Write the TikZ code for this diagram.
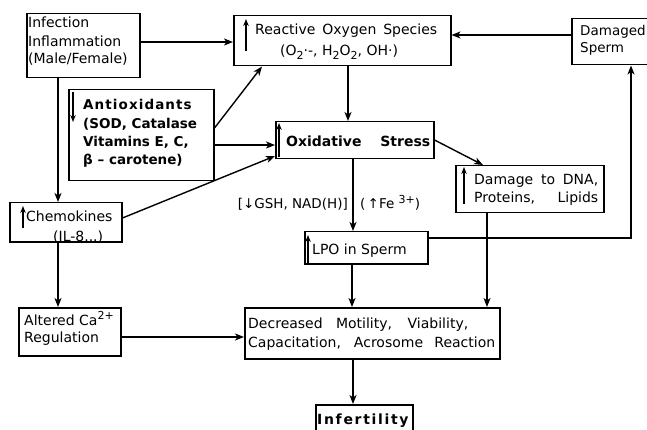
\documentclass[tikz,border=0pt]{standalone}
\usepackage{fontspec}
\setmainfont{DejaVu Sans}
\usetikzlibrary{arrows.meta}
\newcommand\sbs[1]{\raisebox{-0.4ex}{\fontsize{11}{11}\selectfont #1}}
\newcommand\sps[1]{\raisebox{0.7ex}{\fontsize{11}{11}\selectfont #1}}
\begin{document}
\begin{tikzpicture}[x=1pt,y=-1pt,
  box/.style={draw, line width=1.5pt, anchor=north west, inner sep=0pt},
  txt/.style={anchor=base west, inner sep=0pt, font=\fontsize{14}{17}\selectfont},
  btxt/.style={anchor=base west, inner sep=0pt, font=\fontsize{13.5}{17}\selectfont\bfseries},
  bbtxt/.style={anchor=base west, inner sep=0pt, font=\fontsize{14}{17}\selectfont\bfseries},
  lbl/.style={anchor=base west, inner sep=0pt, font=\fontsize{13.5}{15}\selectfont},
  arr/.style={line width=1.4pt, -{Stealth[length=9pt,width=7pt,inset=2.5pt]}},
  inarr/.style={line width=1.2pt, -{Stealth[length=7pt,width=5.5pt]}}]
\useasboundingbox (0,0) rectangle (647,430);
\clip (0,0) rectangle (647,430);
% boxes
\node[box,minimum width=113pt,minimum height=64pt] (inf) at (26,13) {};
\node[box,minimum width=217pt,minimum height=50pt] (ros) at (233,15) {};
\node[box,minimum width=94pt,minimum height=46pt] (dam) at (571,18) {};
\node[box,minimum width=145pt,minimum height=91pt] (anti) at (68,89) {};
\node[box,minimum width=158pt,minimum height=37pt] (ox) at (275,121) {};
\node[box,minimum width=148pt,minimum height=47pt] (dna) at (455,165) {};
\node[box,minimum width=112pt,minimum height=39pt] (chem) at (9,202) {};
\node[box,minimum width=123pt,minimum height=32pt] (lpo) at (304,231) {};
\node[box,minimum width=102pt,minimum height=48pt] (ca) at (18,307) {};
\node[box,minimum width=255pt,minimum height=51pt] (dec) at (244,307) {};
\node[box,minimum width=97pt,minimum height=40pt] (infe) at (315,404) {};
% texts
\node[txt] (t1) at (28,28) {Infection};
\node[txt] (t2) at (28,46.5) {Inflammation};
\node[txt] (t3) at (28,64) {(Male/Female)};
\node[txt] (t4) at (255,35) {\makebox[182pt][s]{Reactive Oxygen Species}};
\node[txt] (t5) at (280,56) {(O\sbs{2}·-, H\sbs{2}O\sbs{2}, OH·)};
\node[txt,font=\fontsize{13.5}{17}\selectfont] (t6) at (580,36) {Damaged};
\node[txt,font=\fontsize{13.5}{17}\selectfont] (t7) at (580,53) {Sperm};
\node[btxt] (t8) at (83,110) {\addfontfeature{LetterSpace=8}Antioxidants};
\node[btxt] (t9) at (83,129) {(SOD, Catalase};
\node[btxt] (t10) at (83,147) {Vitamins E, C,};
\node[btxt] (t11) at (83,165) {β – carotene)};
\node[bbtxt] (t12) at (286,147) {\makebox[144pt][s]{Oxidative Stress}};
\node[txt] (t13) at (474,185) {\makebox[124pt][s]{Damage to DNA,}};
\node[txt] (t14) at (474,203) {\makebox[124pt][s]{Proteins, Lipids}};
\node[txt] (t15) at (26,222) {Chemokines};
\node[txt] (t16) at (53,241) {(IL-8...)};
\node[lbl,anchor=base east] (t17) at (348,209) {[↓GSH, NAD(H)]};
\node[lbl] (t18) at (360,209) {(\,↑Fe \sps{3+})};
\node[txt] (t19) at (312,254) {LPO in Sperm};
\node[txt] (t20) at (24,325) {Altered Ca\sps{2+}};
\node[txt] (t21) at (24,342) {Regulation};
\node[txt] (t22) at (248,328) {\makebox[220pt][s]{Decreased Motility, Viability,}};
\node[txt] (t23) at (248,347) {\makebox[247pt][s]{Capacitation, Acrosome Reaction}};
\node[bbtxt] (t24) at (317,424) {\addfontfeature{LetterSpace=12}Infertility};
% arrows inside boxes
\draw[inarr] ([xshift=13pt,yshift=15pt]ros.south west) -- ([xshift=13pt,yshift=-4pt]ros.north west);
\draw[inarr] ([xshift=4pt,yshift=2pt]ox.south west) -- ([xshift=4pt,yshift=-2pt]ox.north west);
\draw[inarr] ([xshift=9pt,yshift=9pt]dna.south west) -- ([xshift=9pt,yshift=-2pt]dna.north west);
\draw[inarr] ([xshift=14pt,yshift=14pt]chem.south west) -- ([xshift=14pt,yshift=-4pt]chem.north west);
\draw[inarr] ([xshift=4pt,yshift=1pt]lpo.south west) -- ([xshift=4pt,yshift=-4pt]lpo.north west);
\draw[inarr] ([xshift=5pt,yshift=-3pt]anti.north west) -- ([xshift=5pt,yshift=-33pt]anti.north west);
% connectors
\draw[arr] (inf.east |- 0,42) -- (ros.west |- 0,42);
\draw[arr] (58,0 |- inf.south) -- (58,0 |- chem.north);
\draw[arr] (anti.east |- 0,128) -- (262,0 |- ros.south);
\draw[arr] (anti.east |- 0,145) -- (ox.west |- 0,145);
\draw[arr] (chem.east |- 0,218) -- (ox.west |- 0,156);
\draw[arr] (348,0 |- ros.south) -- (348,0 |- ox.north);
\draw[arr] (dam.west |- 0,35) -- (ros.east |- 0,35);
\draw[arr] (ox.east |- 0,140) -- (483,0 |- dna.north);
\draw[arr] (353,0 |- ox.south) -- (353,0 |- lpo.north);
\draw[arr] (lpo.east |- 0,238) -| (631,0 |- dam.south);
\draw[arr] (352,0 |- lpo.south) -- (352,0 |- dec.north);
\draw[arr] (487,0 |- dna.south) -- (487,0 |- dec.north);
\draw[arr] (58,0 |- chem.south) -- (58,0 |- ca.north);
\draw[arr] (ca.east |- 0,337) -- (dec.west |- 0,337);
\draw[arr] (353,0 |- dec.south) -- (353,0 |- infe.north);
\end{tikzpicture}
\end{document}
